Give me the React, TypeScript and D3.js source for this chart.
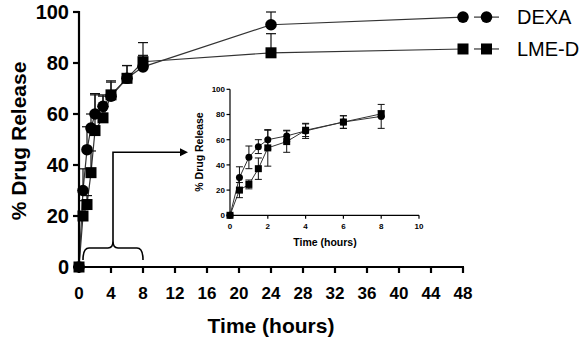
import React from 'react';
import * as d3 from 'd3';

// Time points (hours)
const times = [0, 0.5, 1, 1.5, 2, 3, 4, 6, 8, 24, 48];
// DEXA mean and SD
const dexaMean = [0, 30, 46, 54.5, 60, 63, 67, 74, 78.5, 95, 98];
const dexaSd = [0, 8.5, 9, 5.5, 7.5, 4.5, 6, 5, 9.5, 5, 1];
// LME-D mean and SD
const lmeMean = [0, 20, 24.5, 37, 53.5, 58.5, 67.5, 74, 80.5, 84, 85.5];
const lmeSd = [0, 6, 3.5, 8.5, 14.5, 8.5, 5, 5, 2.5, 7.5, 1];

const mainXTicks = d3.range(0, 49, 4);
const mainYTicks = [0, 20, 40, 60, 80, 100];
const insetXTicks = [0, 2, 4, 6, 8, 10];
const insetYTicks = [0, 20, 40, 60, 80, 100];
const seriesNames = ['DEXA', 'LME-D'];

const FONT = "Arial, 'Liberation Sans', sans-serif";

type Pt = { t: number; m: number; sd: number };

function App() {
  const dexa: Pt[] = times.map((t, i) => ({ t, m: dexaMean[i], sd: dexaSd[i] }));
  const lme: Pt[] = times.map((t, i) => ({ t, m: lmeMean[i], sd: lmeSd[i] }));

  // main scales
  const x = d3.scaleLinear().domain([0, 48]).range([79, 463]);
  const y = d3.scaleLinear().domain([0, 100]).range([267, 12]);

  // inset scales
  const ix = d3.scaleLinear().domain([0, 10]).range([230, 419]);
  const iy = d3.scaleLinear().domain([0, 100]).range([215.3, 89.3]);

  const mainLine = d3.line<Pt>().x(d => x(d.t)).y(d => y(d.m));
  const insetLine = d3.line<Pt>().x(d => ix(d.t)).y(d => iy(d.m));

  const dexaIn = dexa.filter(d => d.t <= 8);
  const lmeIn = lme.filter(d => d.t <= 8);

  // bracket + arrow
  const bL = x(0.5), bR = x(8), bC = (bL + bR) / 2;
  const bY = 248;
  const arrowY = y(45);
  const arrowTip = ix(0) - 42;
  const brace = `M${bL},260 Q${bL},${bY} ${bL + 6},${bY} L${bC - 5},${bY} Q${bC},${bY} ${bC},${bY - 7} Q${bC},${bY} ${bC + 5},${bY} L${bR - 6},${bY} Q${bR},${bY} ${bR},260`;

  return (
    <svg width={583} height={342} style={{ position: 'absolute', left: 0, top: 0, background: '#fff' }}>
      <rect width={583} height={342} fill="#fff" />

      {/* ---------- main chart ---------- */}
      <path d={mainLine(lme) || ''} fill="none" stroke="#333" strokeWidth={1.2} />
      <path d={mainLine(dexa) || ''} fill="none" stroke="#333" strokeWidth={1.2} />

      {/* upper error bars */}
      {[...dexa, ...lme].map((d, i) => d.sd > 0 && (
        <g key={'me' + i} stroke="#111" strokeWidth={1.2}>
          <line x1={x(d.t)} x2={x(d.t)} y1={y(d.m)} y2={y(d.m + d.sd)} />
          <line x1={x(d.t) - 5} x2={x(d.t) + 5} y1={y(d.m + d.sd)} y2={y(d.m + d.sd)} />
        </g>
      ))}

      {lme.map((d, i) => (
        <rect key={'ms' + i} x={x(d.t) - 5.5} y={y(d.m) - 5.5} width={11} height={11} fill="#000" />
      ))}
      {dexa.map((d, i) => (
        <circle key={'mc' + i} cx={x(d.t)} cy={y(d.m)} r={5.8} fill="#000" />
      ))}

      {/* axes */}
      <g stroke="#000" strokeWidth={2.2}>
        <line x1={x(0)} x2={x(0)} y1={y(100) - 1} y2={y(0) + 1} />
        <line x1={x(0) - 1} x2={x(48) + 1} y1={y(0)} y2={y(0)} />
        {mainYTicks.map(v => (
          <line key={'yt' + v} x1={x(0) - 6} x2={x(0)} y1={y(v)} y2={y(v)} />
        ))}
        {mainXTicks.map(v => (
          <line key={'xt' + v} x1={x(v)} x2={x(v)} y1={y(0)} y2={y(0) + 6} />
        ))}
      </g>
      {mainYTicks.map(v => (
        <text key={'yl' + v} x={x(0) - 10} y={y(v)} dy="0.36em" textAnchor="end"
          fontFamily={FONT} fontWeight="bold" fontSize={20}>{v}</text>
      ))}
      {mainXTicks.map(v => (
        <text key={'xl' + v} x={x(v)} y={299} textAnchor="middle"
          fontFamily={FONT} fontWeight="bold" fontSize={17}>{v}</text>
      ))}
      <text x={271} y={333} textAnchor="middle" fontFamily={FONT} fontWeight="bold" fontSize={21}>Time (hours)</text>
      <text transform={`translate(26,${141}) rotate(-90)`} textAnchor="middle"
        fontFamily={FONT} fontWeight="bold" fontSize={21}>% Drug Release</text>

      {/* legend */}
      {seriesNames.map((name, i) => {
        const ly = i === 0 ? y(dexaMean[10]) : y(lmeMean[10]);
        return (
          <g key={'lg' + i}>
            <line x1={474} x2={499} y1={ly} y2={ly} stroke="#333" strokeWidth={1.2} />
            {i === 0
              ? <circle cx={486.5} cy={ly} r={5.8} fill="#000" />
              : <rect x={481} y={ly - 5.5} width={11} height={11} fill="#000" />}
            <text x={517} y={ly} dy="0.36em" fontFamily={FONT} fontSize={20}>{name}</text>
          </g>
        );
      })}

      {/* bracket and arrow */}
      <path d={brace} fill="none" stroke="#000" strokeWidth={1.6} />
      <path d={`M${bC},${bY - 7} L${bC},${arrowY} L${arrowTip - 6},${arrowY}`} fill="none" stroke="#000" strokeWidth={1.6} />
      <path d={`M${arrowTip},${arrowY} L${arrowTip - 8},${arrowY - 4} L${arrowTip - 8},${arrowY + 4} Z`} fill="#000" />

      {/* ---------- inset chart ---------- */}
      <path d={insetLine(lmeIn) || ''} fill="none" stroke="#333" strokeWidth={1} />
      <path d={insetLine(dexaIn) || ''} fill="none" stroke="#333" strokeWidth={1} />
      {[...dexaIn, ...lmeIn].map((d, i) => d.sd > 0 && (
        <g key={'ie' + i} stroke="#111" strokeWidth={1}>
          <line x1={ix(d.t)} x2={ix(d.t)} y1={iy(d.m - d.sd)} y2={iy(d.m + d.sd)} />
          <line x1={ix(d.t) - 3.5} x2={ix(d.t) + 3.5} y1={iy(d.m + d.sd)} y2={iy(d.m + d.sd)} />
          <line x1={ix(d.t) - 3.5} x2={ix(d.t) + 3.5} y1={iy(d.m - d.sd)} y2={iy(d.m - d.sd)} />
        </g>
      ))}
      {lmeIn.map((d, i) => (
        <rect key={'is' + i} x={ix(d.t) - 3.5} y={iy(d.m) - 3.5} width={7} height={7} fill="#000" />
      ))}
      {dexaIn.map((d, i) => (
        <circle key={'ic' + i} cx={ix(d.t)} cy={iy(d.m)} r={3.5} fill="#000" />
      ))}
      <g stroke="#000" strokeWidth={1.2}>
        <line x1={ix(0)} x2={ix(0)} y1={iy(100)} y2={iy(0)} />
        <line x1={ix(0)} x2={ix(10)} y1={iy(0)} y2={iy(0)} />
        {insetYTicks.map(v => (
          <line key={'iyt' + v} x1={ix(0) - 3.5} x2={ix(0)} y1={iy(v)} y2={iy(v)} />
        ))}
        {insetXTicks.map(v => (
          <line key={'ixt' + v} x1={ix(v)} x2={ix(v)} y1={iy(0)} y2={iy(0) + 3.5} />
        ))}
      </g>
      {insetYTicks.map(v => (
        <text key={'iyl' + v} x={ix(0) - 5} y={iy(v)} dy="0.36em" textAnchor="end"
          fontFamily={FONT} fontWeight="bold" fontSize={8}>{v}</text>
      ))}
      {insetXTicks.map(v => (
        <text key={'ixl' + v} x={ix(v)} y={229} textAnchor="middle"
          fontFamily={FONT} fontWeight="bold" fontSize={8}>{v}</text>
      ))}
      <text x={325} y={246} textAnchor="middle" fontFamily={FONT} fontWeight="bold" fontSize={10.5}>Time (hours)</text>
      <text transform={`translate(203,152) rotate(-90)`} textAnchor="middle"
        fontFamily={FONT} fontWeight="bold" fontSize={10.5}>% Drug Release</text>
    </svg>
  );
}

export default App;
